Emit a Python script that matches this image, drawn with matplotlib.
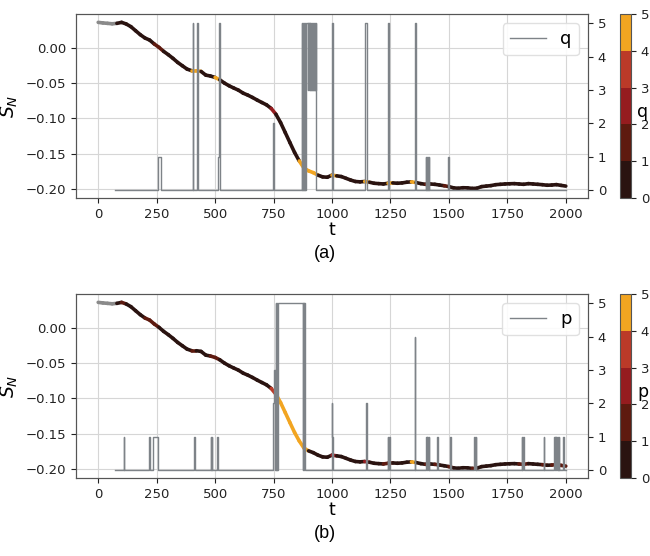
import numpy as np
import matplotlib
matplotlib.use("Agg")
import matplotlib.pyplot as plt
from matplotlib.collections import LineCollection
from matplotlib.colors import ListedColormap, BoundaryNorm
from matplotlib.cm import ScalarMappable

# sample times of S_N (every 20 steps)
t = np.arange(0, 2001, 20)
s_n = [0.0358, 0.0350, 0.0344, 0.0338, 0.0344, 0.0358, 0.0335, 0.0297, 0.0240, 0.0184,
       0.0137, 0.0108, 0.0052, 0.0005, -0.0052, -0.0099, -0.0151, -0.0208, -0.0255, -0.0302,
       -0.0325, -0.0325, -0.0335, -0.0387, -0.0400, -0.0420, -0.0453, -0.0500, -0.0538, -0.0570,
       -0.0600, -0.0642, -0.0670, -0.0703, -0.0740, -0.0774, -0.0807, -0.0858, -0.0939, -0.1057,
       -0.1198, -0.1340, -0.1480, -0.1600, -0.1700, -0.1740, -0.1765, -0.1800, -0.1825, -0.1830,
       -0.1800, -0.1810, -0.1820, -0.1845, -0.1870, -0.1890, -0.1895, -0.1890, -0.1900, -0.1915,
       -0.1920, -0.1925, -0.1915, -0.1910, -0.1915, -0.1910, -0.1900, -0.1895, -0.1905, -0.1920,
       -0.1930, -0.1925, -0.1930, -0.1940, -0.1950, -0.1962, -0.1980, -0.1986, -0.1978, -0.1980,
       -0.1988, -0.1985, -0.1962, -0.1955, -0.1948, -0.1935, -0.1930, -0.1925, -0.1922, -0.1920,
       -0.1925, -0.1930, -0.1920, -0.1925, -0.1930, -0.1935, -0.1943, -0.1940, -0.1934, -0.1945,
       -0.1955]

# q: change points (step function, value holds until next time)
q_t = [70, 257, 270, 404, 407, 423, 426, 511, 517, 520, 748, 751,
       871, 873, 875, 877, 879, 881, 883, 885, 887,
       896, 898, 900, 902, 904, 906, 908, 910, 912, 914, 916, 918, 920, 922, 924, 926, 928, 930, 932,
       1000, 1003, 1140, 1151, 1240, 1242, 1357, 1359,
       1402, 1404, 1406, 1408, 1410, 1412, 1414, 1416, 1498, 1500, 2000]
q_v = [0, 1, 0, 5, 0, 5, 0, 1, 5, 0, 2, 0,
       5, 0, 5, 0, 5, 0, 5, 0, 5,
       3, 5, 3, 5, 3, 5, 3, 5, 3, 5, 3, 5, 3, 5, 3, 5, 3, 5, 0,
       5, 0, 5, 0, 5, 0, 5, 0,
       1, 0, 1, 0, 1, 0, 1, 0, 1, 0, 0]

# p: change points
p_t = [70, 110, 112, 218, 221, 233, 256, 410, 412, 481, 483, 485, 487, 510, 512,
       746, 753, 757, 760, 762, 764, 766, 768, 876, 878, 880, 882, 884,
       1000, 1002, 1004, 1146, 1148, 1151, 1238, 1241, 1243, 1246, 1355, 1357,
       1403, 1405, 1408, 1410, 1413, 1416, 1450, 1452, 1505, 1507,
       1609, 1611, 1614, 1617, 1812, 1814, 1818, 1821, 1905, 1907,
       1950, 1952, 1955, 1957, 1960, 1962, 1965, 1967, 1970, 1973, 1990, 1992, 2000]
p_v = [0, 1, 0, 1, 0, 1, 0, 1, 0, 1, 0, 1, 0, 1, 0,
       2, 3, 0, 5, 0, 5, 0, 5, 0, 5, 0, 5, 0,
       2, 1, 0, 2, 1, 0, 1, 0, 1, 0, 4, 0,
       1, 0, 1, 0, 1, 0, 1, 0, 1, 0,
       1, 0, 1, 0, 1, 0, 1, 0, 1, 0,
       1, 0, 1, 0, 1, 0, 1, 0, 1, 0, 1, 0, 0]

level_colors = ['#2a1310', '#5e1a0f', '#951c1f', '#bb3a28', '#f2a521']
cmap = ListedColormap(level_colors)
norm = BoundaryNorm([0, 1, 2, 3, 4, 5], cmap.N)


def segment_levels(ch_t, ch_v):
    # highest level reached inside each segment of the S_N curve
    levels = []
    for a, b in zip(t[:-1], t[1:]):
        if a < ch_t[0]:
            levels.append(-1)
            continue
        i0 = np.searchsorted(ch_t, a, side='right') - 1
        i1 = np.searchsorted(ch_t, b, side='left')
        levels.append(max(ch_v[i0:max(i1, i0 + 1)]))
    return levels


def draw_panel(rect, cbar_rect, ch_t, ch_v, name, caption, cap_y):
    ax = fig.add_axes(rect)
    ax.set_xlim(-95, 2095)
    ax.set_ylim(-0.2123, 0.0476)
    ax.grid(True, color='#d6d6d6', lw=0.8)
    ax.set_axisbelow(True)

    levels = segment_levels(ch_t, ch_v)
    cols = ['#8a8a8a' if lv < 0 else cmap(norm(min(lv, 4.5))) for lv in levels]
    pts = np.column_stack([t, s_n])
    segs = np.stack([pts[:-1], pts[1:]], axis=1)
    ax.add_collection(LineCollection(segs, colors=cols, linewidths=2.6, capstyle='round'))

    ax.set_xticks([0, 250, 500, 750, 1000, 1250, 1500, 1750, 2000])
    ax.set_yticks([-0.20, -0.15, -0.10, -0.05, 0.00])
    ax.set_xlabel('t', fontsize=12.5, labelpad=0)
    ax.set_ylabel('$S_N$', fontsize=13.5)
    ax.tick_params(labelsize=9.5, colors='#222222', length=3.5)

    ax2 = ax.twinx()
    ax2.plot(ch_t, ch_v, drawstyle='steps-post', color='#7e8388', lw=1.0, label=name)
    ax2.set_ylim(-0.24, 5.28)
    ax2.set_yticks(range(6))
    ax2.tick_params(labelsize=9.5, colors='#222222', length=3.5)
    ax2.legend(loc='upper right', fontsize=13, framealpha=0.9, edgecolor='#dddddd')
    for a in (ax, ax2):
        for sp in a.spines.values():
            sp.set_color('#555555')

    cax = fig.add_axes(cbar_rect)
    cb = fig.colorbar(ScalarMappable(norm=norm, cmap=cmap), cax=cax)
    cb.set_ticks(range(6))
    cb.ax.tick_params(labelsize=9.5, colors='#222222', length=3.5)
    cb.outline.set_edgecolor('#555555')
    cb.set_label(name, rotation=0, fontsize=12.5, va='center', ha='center')
    cb.ax.yaxis.set_label_coords(2.05, 0.47)

    fig.text(0.5, cap_y, caption, ha='center', va='center', fontsize=13,
             family='Liberation Sans')


fig = plt.figure(figsize=(6.5, 5.56), dpi=100)
draw_panel([0.1169, 0.6439, 0.7877, 0.3309], [0.9538, 0.6439, 0.0169, 0.3309],
           q_t, q_v, 'q', '(a)', 1 - 253 / 556)
draw_panel([0.1169, 0.1403, 0.7877, 0.3309], [0.9538, 0.1403, 0.0169, 0.3309],
           p_t, p_v, 'p', '(b)', 1 - 533 / 556)
fig.savefig('out.png', dpi=100)
